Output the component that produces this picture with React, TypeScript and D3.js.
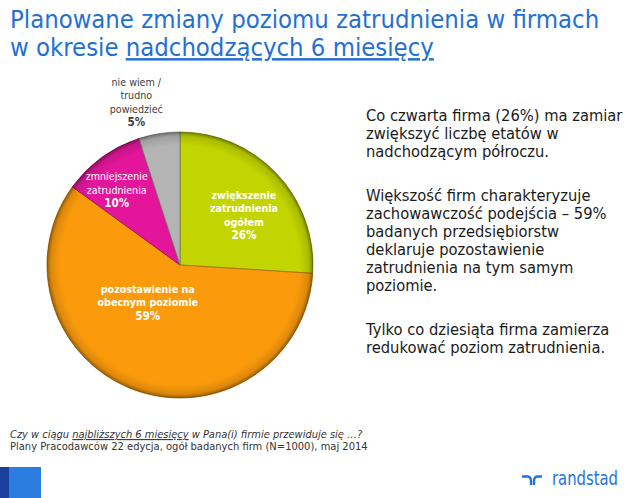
import React from "react";
import * as d3 from "d3";

// ---- data ----
const categories = [
  "zwiększenie zatrudnienia ogółem",
  "pozostawienie na obecnym poziomie",
  "zmniejszenie zatrudnienia",
  "nie wiem / trudno powiedzieć",
];
const values = [26, 59, 10, 5];
const labelLines = [
  ["zwiększenie", "zatrudnienia", "ogółem"],
  ["pozostawienie na", "obecnym poziomie"],
  ["zmniejszenie", "zatrudnienia"],
  ["nie wiem /", "trudno", "powiedzieć"],
];
const titleLine1 = "Planowane zmiany poziomu zatrudnienia w firmach";
const titleLine2a = "w okresie ";
const titleLine2b = "nadchodzących 6 miesięcy";
const paragraphs = [
  ["Co czwarta firma (26%) ma zamiar", "zwiększyć liczbę etatów w", "nadchodzącym półroczu."],
  [
    "Większość firm charakteryzuje",
    "zachowawczość podejścia – 59%",
    "badanych przedsiębiorstw",
    "deklaruje pozostawienie",
    "zatrudnienia na tym samym",
    "poziomie.",
  ],
  ["Tylko co dziesiąta firma zamierza", "redukować poziom zatrudnienia."],
];
const questionParts = ["Czy w ciągu ", "najbliższych 6 miesięcy", " w Pana(i) firmie przewiduje się …?"];
const sourceText = "Plany Pracodawców 22 edycja, ogół badanych firm (N=1000), maj 2014";

// ---- layout / style ----
const W = 640;
const H = 498;
const cx = 180;
const cy = 265;
const R = 133;
const colors = ["#c2d500", "#fb9b0c", "#e3169b", "#b4b4b4"];
const labelPlace = [
  { angle: 52, rf: 0.61, color: "#ffffff", bold: true },
  { angle: 221, rf: 0.37, color: "#ffffff", bold: true },
  { angle: 320, rf: 0.74, color: "#ffffff", bold: false },
  { angle: 345, rf: 1.27, color: "#404040", bold: false },
];
const FONT = "'DejaVu Sans', Verdana, sans-serif";
const SX = 0.87;

export default function App() {
  const pie = d3
    .pie<number>()
    .sort(null)
    .startAngle(0)
    .endAngle(2 * Math.PI)
    .value((d) => d);
  const arcs = pie(values);
  const arc = d3.arc<d3.PieArcDatum<number>>().innerRadius(0).outerRadius(R);

  const lh = 13.5;

  return (
    <svg
      width={W}
      height={H}
      style={{ position: "fixed", left: 0, top: 0, background: "#fff" }}
      fontFamily={FONT}
    >
      <defs>
        <radialGradient id="edge" gradientUnits="userSpaceOnUse" cx={cx} cy={cy} r={R}>
          <stop offset="0" stopColor="#000" stopOpacity={0} />
          <stop offset="0.9" stopColor="#000" stopOpacity={0} />
          <stop offset="0.97" stopColor="#000" stopOpacity={0.12} />
          <stop offset="1" stopColor="#000" stopOpacity={0.4} />
        </radialGradient>
      </defs>
      <rect width={W} height={H} fill="#fff" />

      {/* title */}
      <g transform={`translate(10,28) scale(0.915,1)`}>
        <text fontSize={25} fill="#2470d2">
          {titleLine1}
        </text>
      </g>
      <g transform={`translate(10,56) scale(0.915,1)`}>
        <text fontSize={25} fill="#2470d2">
          {titleLine2a}
          <tspan textDecoration="underline">{titleLine2b}</tspan>
        </text>
      </g>

      {/* pie */}
      <g transform={`translate(${cx},${cy})`}>
        {arcs.map((a, i) => (
          <path
            key={categories[i]}
            d={arc(a) || ""}
            fill={colors[i]}
            stroke={d3.color(colors[i])!.darker(1.2).formatHex()}
            strokeWidth={0.8}
          />
        ))}
        <circle r={R} fill="url(#edge)" transform={`translate(${-cx},${-cy})`} cx={cx} cy={cy} />
      </g>

      {/* slice labels */}
      {arcs.map((a, i) => {
        const p = labelPlace[i];
        const ang = (p.angle * Math.PI) / 180;
        const lx = cx + Math.sin(ang) * R * p.rf;
        const ly = cy - Math.cos(ang) * R * p.rf;
        const lines = labelLines[i];
        const n = lines.length + 1;
        const y0 = ly - ((n - 1) * lh) / 2 + 4;
        return (
          <g key={"l" + i} transform={`translate(${lx},${y0}) scale(${SX},1)`}>
            <text
              textAnchor="middle"
              fontSize={11}
              fill={p.color}
              fontWeight={p.bold ? "bold" : "normal"}
            >
              {lines.map((t, j) => (
                <tspan key={j} x={0} y={j * lh}>
                  {t}
                </tspan>
              ))}
              <tspan x={0} y={lines.length * lh} fontWeight="bold" fontSize={12}>
                {values[i]}%
              </tspan>
            </text>
          </g>
        );
      })}

      {/* right text */}
      {(() => {
        const out: React.ReactNode[] = [];
        let y = 121;
        paragraphs.forEach((para, pi) => {
          para.forEach((line, li) => {
            out.push(
              <g key={`p${pi}-${li}`} transform={`translate(366,${y}) scale(0.92,1)`}>
                <text fontSize={16} fill="#1a1a1a">
                  {line}
                </text>
              </g>
            );
            y += 18;
          });
          y += 26;
        });
        return out;
      })()}

      {/* footnote */}
      <g transform={`translate(10,438) scale(0.9,1)`}>
        <text fontSize={11} fill="#333" fontStyle="italic">
          {questionParts[0]}
          <tspan textDecoration="underline">{questionParts[1]}</tspan>
          {questionParts[2]}
        </text>
      </g>
      <g transform={`translate(10,450) scale(0.905,1)`}>
        <text fontSize={11} fill="#333">
          {sourceText}
        </text>
      </g>

      {/* bottom-left blocks */}
      <rect x={0} y={467} width={9} height={31} fill="#1b3f9e" />
      <rect x={9} y={467} width={32} height={31} fill="#2b7de0" />

      {/* logo */}
      <g fill="none" stroke="#2175d9" strokeWidth={2.4}>
        <path d="M522,476.5 H527 Q531,476.5 531,481 V485" />
        <path d="M534,485 V481 Q534,476.5 538,476.5 H542" />
      </g>
      <g transform={`translate(552,485) scale(0.78,1)`}>
        <text fontSize={19} fill="#2175d9">
          randstad
        </text>
      </g>
    </svg>
  );
}
